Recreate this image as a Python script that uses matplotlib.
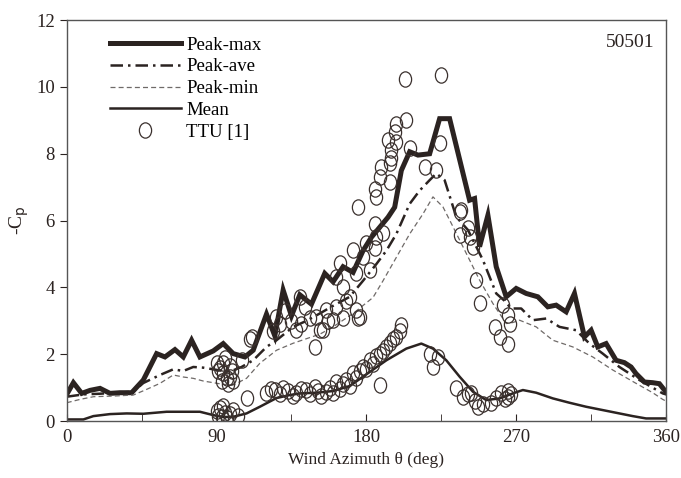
import matplotlib
matplotlib.use("Agg")
import matplotlib.pyplot as plt
from matplotlib.markers import MarkerStyle
from matplotlib.transforms import Affine2D

# Peak-max (thick solid)
pmax_x = [0, 4, 9, 14, 20, 26, 32, 39, 46, 54, 59, 65, 70, 75, 80, 88, 94, 100, 107, 112,
          120, 125, 130, 135, 140, 147, 155, 160, 166, 172, 178, 183, 188, 193, 197, 201, 206, 211, 218, 224,
          230, 242, 245, 248, 253, 258, 264, 270, 276, 283, 289, 294, 300, 305, 311, 315, 319, 324, 330, 335,
          339, 342, 347, 352, 356, 360]
pmax_y = [0.8, 1.15, 0.83, 0.92, 0.98, 0.83, 0.85, 0.85, 1.23, 2.02, 1.92, 2.14, 1.92, 2.42, 1.92, 2.10, 2.32, 2.02, 1.92, 2.12,
          3.2, 2.55, 3.92, 3.15, 3.78, 3.5, 4.42, 4.17, 4.62, 4.45, 5.1, 5.5, 5.8, 6.1, 6.4, 7.5, 8.06, 7.96, 8.0, 9.05,
          9.05, 6.61, 6.66, 5.22, 6.16, 4.62, 3.72, 3.97, 3.82, 3.72, 3.42, 3.47, 3.27, 3.82, 2.52, 2.72, 2.22, 2.32, 1.82, 1.75,
          1.62, 1.42, 1.17, 1.15, 1.12, 0.87]

# Peak-ave (dash-dot)
pave_x = [0, 10, 20, 30, 40, 46, 56, 64, 70, 76, 82, 88, 94, 98, 105, 112, 120, 126, 136, 144,
          152, 160, 170, 178, 186, 192, 198, 206, 212, 218, 222, 227, 234, 241, 250, 258, 263, 267, 273, 280,
          288, 296, 306, 314, 322, 332, 344, 352, 358, 360]
pave_y = [0.73, 0.8, 0.82, 0.85, 0.88, 1.14, 1.38, 1.55, 1.5, 1.62, 1.6, 1.55, 1.5, 1.48, 1.62, 1.82, 2.22, 2.42, 2.82, 3.0,
          3.22, 3.45, 3.72, 4.2, 4.7, 5.1, 5.6, 6.5, 6.9, 7.21, 7.41, 7.21, 6.11, 5.72, 4.82, 3.82, 3.6, 3.37, 3.37, 3.02,
          3.07, 2.82, 2.72, 2.32, 2.02, 1.62, 1.23, 1.0, 0.83, 0.8]

# Peak-min (thin dashed)
pmin_x = [0, 8, 16, 28, 40, 48, 56, 64, 70, 76, 82, 88, 94, 100, 108, 116, 126, 136, 146, 152,
          160, 172, 184, 190, 198, 206, 214, 220, 226, 232, 240, 248, 256, 264, 268, 272, 282, 292, 304, 316,
          328, 342, 352, 358, 360]
pmin_y = [0.55, 0.65, 0.73, 0.75, 0.78, 0.95, 1.13, 1.38, 1.32, 1.28, 1.2, 1.15, 1.1, 1.08, 1.28, 1.73, 2.12, 2.33, 2.5, 2.6,
          2.82, 3.22, 3.7, 4.2, 4.9, 5.6, 6.2, 6.71, 6.41, 5.82, 5.02, 4.22, 3.52, 2.92, 2.95, 3.02, 2.82, 2.42, 2.22, 1.92,
          1.53, 1.13, 0.85, 0.65, 0.6]

# Mean
mean_x = [0, 10, 16, 26, 36, 46, 60, 70, 80, 88, 94, 100, 108, 116, 126, 134, 140, 150, 160, 170,
          180, 192, 204, 213, 220, 228, 236, 244, 252, 260, 268, 274, 282, 292, 302, 312, 322, 332, 340, 348, 360]
mean_y = [0.05, 0.05, 0.15, 0.21, 0.23, 0.22, 0.28, 0.28, 0.28, 0.18, 0.12, 0.13, 0.23, 0.43, 0.69, 0.78, 0.83, 0.85, 0.9, 1.05,
          1.4, 1.82, 2.17, 2.32, 2.17, 1.82, 1.33, 0.88, 0.63, 0.68, 0.83, 0.93, 0.85, 0.68, 0.55, 0.43, 0.33, 0.23, 0.15, 0.08, 0.08]

# TTU [1] full-scale data (peak group then mean group)
ttu_x = [90, 91, 92, 93, 94, 95, 96, 97, 98, 99, 100, 94, 98, 105, 110, 111,
         124, 126, 128, 131, 135, 138, 140, 141, 143, 146, 149, 150, 152, 154, 156, 157, 160, 162, 162, 164,
         166, 166, 168, 170, 172, 174, 174, 175, 176, 175, 178, 180, 182, 185, 186, 185, 185, 186, 188, 189,
         190, 193, 194, 194, 195, 195, 197, 198, 198, 203, 204, 206, 215, 222, 224, 225, 236, 237, 236, 241,
         242, 244, 246, 248, 257, 260, 262, 265, 265, 266,
         90, 91, 92, 93, 94, 95, 96, 98, 100, 103, 108, 120, 123, 125, 128, 130, 133, 136, 138, 141,
         144, 146, 149, 151, 153, 156, 158, 160, 162, 164, 166, 168, 170, 172, 174, 176, 178, 180, 182, 184,
         186, 188, 188, 190, 192, 194, 196, 198, 200, 201, 218, 220, 223, 234, 238, 241, 243, 245, 247, 250,
         255, 258, 261, 263, 265, 265, 267]
ttu_y = [1.75, 1.5, 1.6, 1.2, 1.45, 1.9, 1.3, 1.1, 1.65, 1.5, 1.2, 1.73, 1.33, 1.82, 2.47, 2.52,
         2.7, 3.12, 2.9, 3.3, 3.0, 2.72, 3.72, 2.92, 3.4, 3.1, 2.22, 3.12, 2.72, 2.72, 3.32, 3.0, 3.02, 3.42, 4.32, 4.72,
         4.02, 3.1, 3.6, 3.72, 5.12, 3.32, 4.42, 3.1, 3.12, 6.41, 4.92, 5.32, 4.52, 5.17, 5.52, 5.91, 6.96, 6.71, 7.31, 7.61,
         5.62, 8.41, 7.71, 7.16, 8.11, 7.86, 8.66, 8.9, 8.36, 10.25, 9.0, 8.17, 7.6, 7.51, 8.31, 10.35, 6.26, 6.31, 5.57, 5.77,
         5.52, 5.22, 4.22, 3.52, 2.82, 2.52, 3.47, 3.17, 2.32, 2.92,
         0.3, 0.15, 0.38, 0.13, 0.45, 0.23, 0.1, 0.2, 0.33, 0.15, 0.68, 0.85, 0.95, 0.93, 0.8, 0.98, 0.9, 0.75, 0.83, 0.95,
         0.93, 0.8, 1.03, 0.9, 0.75, 0.88, 1.0, 0.85, 1.18, 0.95, 1.1, 1.23, 1.05, 1.43, 1.3, 1.5, 1.63, 1.55, 1.82, 1.7,
         1.95, 2.02, 1.08, 2.1, 2.22, 2.35, 2.45, 2.52, 2.7, 2.87, 2.02, 1.63, 1.92, 0.98, 0.73, 0.8, 0.83, 0.6, 0.43, 0.5,
         0.53, 0.7, 0.83, 0.65, 0.73, 0.9, 0.8]

ink = '#2b2321'
plt.rcParams['font.family'] = ['Liberation Serif', 'DejaVu Serif']

fig = plt.figure(figsize=(6.81, 4.78), dpi=100)
ax = fig.add_axes([0.098, 0.119, 0.880, 0.839])

ax.plot(pmax_x, pmax_y, color=ink, lw=3.6, label='Peak-max', solid_joinstyle='miter')
ax.plot(pave_x, pave_y, color=ink, lw=1.8, ls=(0, (5, 2, 1, 2)), label='Peak-ave')
ax.plot(pmin_x, pmin_y, color='#6f6a68', lw=0.9, ls=(0, (4, 2.5)), label='Peak-min')
ax.plot(mean_x, mean_y, color=ink, lw=1.8, label='Mean')
ell = MarkerStyle('o', fillstyle='none', transform=Affine2D().scale(0.8, 1.0))
ax.plot(ttu_x, ttu_y, ls='none', marker=ell, ms=11, mec='#3a302d', mew=0.9, label='TTU [1]')

ax.set_xlim(0, 360)
ax.set_ylim(0, 12)
ax.set_xticks([0, 90, 180, 270, 360])
ax.set_xticks([45, 135, 225, 315], minor=True)
ax.set_yticks([0, 2, 4, 6, 8, 10, 12])
ax.tick_params(axis='x', which='both', direction='in', length=5, labelsize=13.5, colors=ink, pad=6)
ax.tick_params(axis='y', direction='out', length=5, labelsize=13.5, colors=ink)
for s in ax.spines.values():
    s.set_color('#555')
    s.set_linewidth(1.0)

ax.set_xlabel('Wind Azimuth \u03b8 (deg)', fontsize=12.5, color=ink)
ax.set_ylabel('-C$_\\mathrm{p}$', fontsize=14, color=ink)
ax.text(0.94, 0.945, '50501', transform=ax.transAxes, ha='center', va='center', fontsize=14, color=ink)

ax.legend(loc='upper left', bbox_to_anchor=(0.06, 0.978), frameon=False, fontsize=13.5,
          handlelength=3.75, handletextpad=0.3, labelspacing=0.25, borderaxespad=0)

fig.savefig('out.png', dpi=100)
